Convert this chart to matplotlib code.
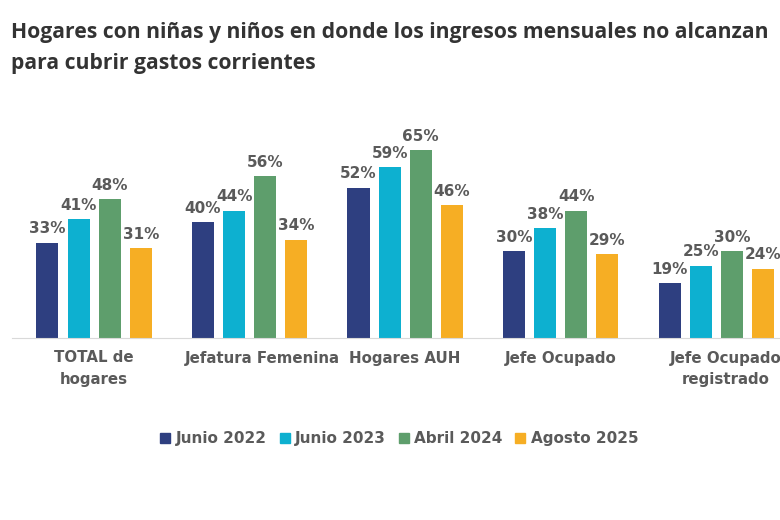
import matplotlib
matplotlib.use("Agg")
import matplotlib.pyplot as plt
from matplotlib.lines import Line2D
import numpy as np

categories = ["TOTAL de\nhogares", "Jefatura Femenina", "Hogares AUH", "Jefe Ocupado", "Jefe Ocupado\nregistrado"]
series_names = ["Junio 2022", "Junio 2023", "Abril 2024", "Agosto 2025"]
junio_2022 = [33, 40, 52, 30, 19]
junio_2023 = [41, 44, 59, 38, 25]
abril_2024 = [48, 56, 65, 44, 30]
agosto_2025 = [31, 34, 46, 29, 24]
colors = ["#2E3F80", "#0DB0D0", "#5E9E6C", "#F6AE24"]

text_gray = "#5A5A5A"
fig = plt.figure(figsize=(7.8, 5.2), dpi=100)
ax = fig.add_axes([0, 0.35, 1, 0.458])

x = np.arange(len(categories))
width = 0.142
step = 0.2
for i, vals in enumerate([junio_2022, junio_2023, abril_2024, agosto_2025]):
    pos = x + (i - 1.5) * step
    bars = ax.bar(pos, vals, width=width, color=colors[i], zorder=2)
    for b, v in zip(bars, vals):
        ax.text(b.get_x() + b.get_width() / 2, v + 2.2, f"{v}%", ha="center", va="bottom",
                fontsize=11, fontweight="bold", color=text_gray, family="DejaVu Sans")

ax.set_xlim(-0.605, 4.41)
ax.set_ylim(0, 82.4)
for s in ["top", "right", "left"]:
    ax.spines[s].set_visible(False)
ax.spines["bottom"].set_color("#D9D9D9")
ax.spines["bottom"].set_bounds(-0.53, 4.41)
ax.set_yticks([])
ax.set_xticks(x + np.array([0, 0.08, 0, 0, 0.06]))
ax.set_xticklabels(categories, fontsize=10.8, fontweight="bold", color=text_gray, linespacing=1.55)
ax.tick_params(axis="x", length=0, pad=9)

fig.text(0.014, 0.957, "Hogares con niñas y niños en donde los ingresos mensuales no alcanzan\npara cubrir gastos corrientes",
         ha="left", va="top", fontsize=15.2, fontweight="bold", color="#333333", family="Open Sans", linespacing=1.62)

handles = [Line2D([], [], marker="s", linestyle="none", color=c, markersize=6.5) for c in colors]
fig.legend(handles, series_names, loc="center", bbox_to_anchor=(0.512, 0.157), ncol=4, frameon=False,
           handlelength=0.7, handletextpad=0.35, columnspacing=0.8,
           prop={"size": 11, "weight": "bold"}, labelcolor=text_gray)

fig.savefig("out.png", dpi=100)
